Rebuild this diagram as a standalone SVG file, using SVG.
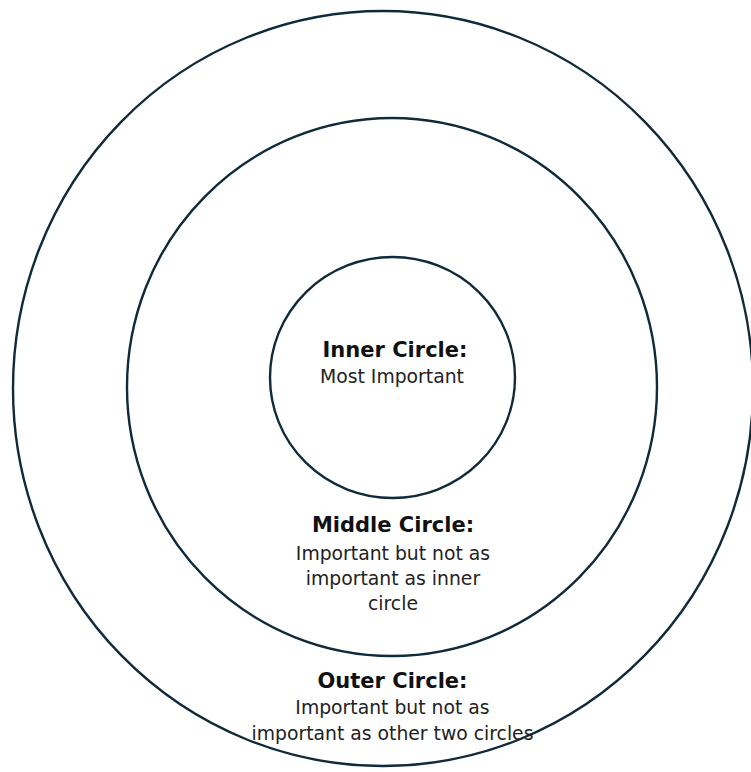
<svg xmlns="http://www.w3.org/2000/svg" width="751" height="772" viewBox="0 0 751 772">
<style>
.ring{fill:none;stroke:#0f2a3a;stroke-width:2.4}
.t{font-family:"DejaVu Sans","Liberation Sans",sans-serif;font-weight:bold;font-size:21px;fill:#111;text-anchor:middle}
.b{font-family:"DejaVu Sans","Liberation Sans",sans-serif;font-size:18.8px;fill:#222;text-anchor:middle}
</style>
<rect width="751" height="772" fill="#fff"/>
<g id="outer">
<ellipse class="ring" cx="383" cy="388.5" rx="370" ry="377.5"/>
<text class="t" x="392.5" y="688">Outer Circle:</text>
<text class="b" x="392.5" y="714">Important but not as</text>
<text class="b" x="392.5" y="740">important as other two circles</text>
</g>
<g id="middle">
<ellipse class="ring" cx="392" cy="387" rx="265" ry="269"/>
<text class="t" x="393" y="532">Middle Circle:</text>
<text class="b" x="393" y="560">Important but not as</text>
<text class="b" x="393" y="585">important as inner</text>
<text class="b" x="393" y="610">circle</text>
</g>
<g id="inner">
<ellipse class="ring" cx="392.5" cy="377.5" rx="122.5" ry="120.5"/>
<text class="t" x="395" y="357">Inner Circle:</text>
<text class="b" x="392" y="383">Most Important</text>
</g>
<g id="connectors"/>
</svg>
